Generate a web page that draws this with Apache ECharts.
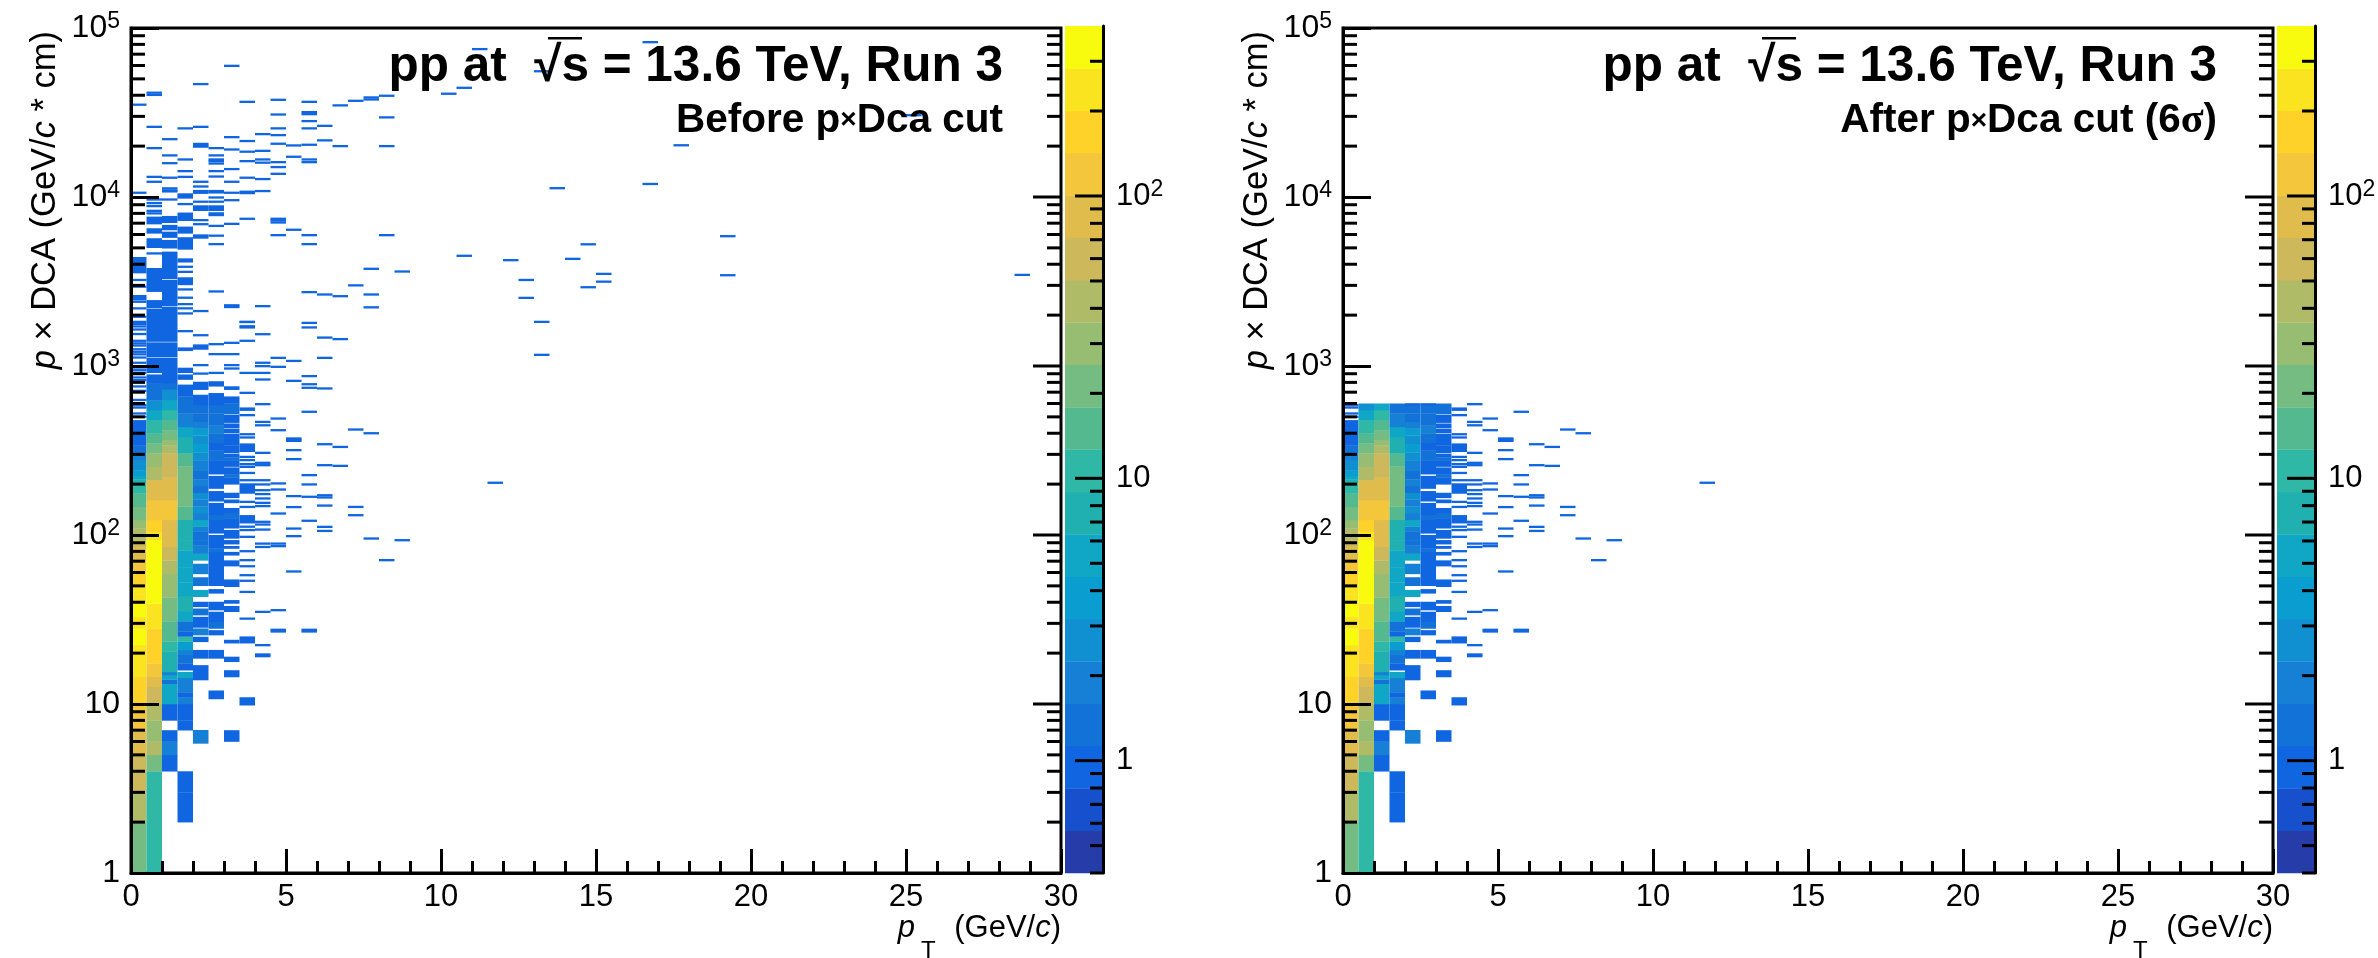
<!DOCTYPE html>
<html>
<head>
<meta charset="utf-8">
<style>html,body{margin:0;padding:0;background:#fff}#c{width:2378px;height:958px}</style>
<script src="https://cdn.jsdelivr.net/npm/echarts@6/dist/echarts.min.js"></script>
</head>
<body>
<div id="c"></div>
<script>
// Histogram binning: pT columns of 0.5 GeV/c, counts are read from the palette.
const ptBinWidth = 0.5;
const pDcaCut = 600;

// Dense columns: [log10(upper edge of run), count]; count 0 = empty; each run starts at the previous edge.
const col0Runs = [[.301,20],[.477,40],[.602,60],[.699,60],[.845,85],[1.0,120],[1.161,170],[1.349,240],[1.447,340],[1.516,240],[1.595,340],[1.65,240],[1.694,240],[1.783,170],[1.842,120],[1.93,85],[1.97,60],[2.0,40],[2.04,40],[2.089,30],[2.167,20],[2.246,15],[2.306,10],[2.33,7],[2.35,5],[2.384,4],[2.444,3],[2.483,2],[2.53,1.4],[2.592,1],[2.68,1],[2.692,0]];
const col1Runs = [[.602,10],[.699,20],[.778,40],[.903,30],[1.0,40],[1.102,60],[1.161,85],[1.24,120],[1.447,170],[1.595,240],[1.77,340],[1.97,340],[2.02,240],[2.089,170],[2.207,120],[2.325,85],[2.404,40],[2.483,30],[2.542,20],[2.601,15],[2.68,10],[2.74,5],[2.798,3],[2.899,1.4],[2.95,1],[2.96,0],[3.05,1],[3.055,0],[3.14,1],[3.145,0],[3.34,1],[3.345,0],[3.39,1],[3.44,0],[3.58,1],[3.70,0],[3.756,1],[3.785,0],[3.815,1],[3.84,0],[3.884,1]];
const col2Runs = [[.602,0],[.699,1],[.778,2],[.845,1],[.903,0],[1.0,1],[1.12,5],[1.146,1.4],[1.172,5],[1.19,2],[1.22,7],[1.31,7],[1.37,10],[1.49,15],[1.63,20],[1.77,30],[1.85,40],[1.93,60],[2.0,85],[2.089,85],[2.207,120],[2.34,85],[2.483,60],[2.53,40],[2.563,30],[2.62,20],[2.68,15],[2.74,10],[2.80,5],[2.86,3],[2.90,1.4],[3.05,1],[3.055,0],[3.14,1],[3.145,0],[3.351,1],[3.356,0],[3.509,1],[3.515,0],[3.677,1],[3.697,0],[3.746,1],[3.76,0],[3.795,1],[3.805,0],[3.835,1],[3.848,0],[3.888,1]];
const col3Runs = [[.301,0],[.477,1],[.602,1],[.845,0],[.903,1],[1.0,1],[1.04,2],[1.07,1],[1.155,2],[1.19,5],[1.2,0],[1.24,1],[1.29,1.4],[1.32,2],[1.37,4],[1.40,10],[1.43,1],[1.49,1.4],[1.55,5],[1.64,7],[1.72,5],[1.81,5],[1.91,5],[1.97,7],[2.09,7],[2.17,15],[2.29,20],[2.406,20],[2.483,15],[2.58,7],[2.64,5],[2.72,2],[2.82,1.4],[2.89,1],[2.92,0],[2.95,1],[2.96,0],[2.99,1],[3.09,0],[3.11,1],[3.48,0],[3.525,1],[3.614,0],[3.637,1],[3.69,0],[3.762,1],[3.785,0],[3.825,1],[3.86,0],[3.908,1]];
const col4Runs = [[.767,0],[.846,2],[1.142,0],[1.23,1],[1.27,0],[1.32,1],[1.368,0],[1.398,1],[1.408,0],[1.447,2],[1.453,0],[1.516,1],[1.526,0],[1.565,1.4],[1.575,0],[1.605,1],[1.635,0],[1.675,5],[1.70,0],[1.75,1.4],[1.77,0],[1.83,2],[1.85,0],[1.89,5],[1.94,2],[1.97,1.4],[2.02,1.4],[2.05,2],[2.09,5],[2.13,2],[2.17,3],[2.21,2],[2.25,3],[2.29,1.4],[2.33,2],[2.38,1.4],[2.44,2],[2.49,3],[2.54,4],[2.59,3],[2.63,4],[2.67,2],[2.72,1.4],[2.77,1.4],[2.83,1],[2.86,0],[2.907,1]];
const col5Runs = [[1.03,0],[1.08,1],[1.27,0],[1.32,1],[1.408,0],[1.437,1],[1.447,0],[1.487,1.4],[1.546,1],[1.556,0],[1.605,1],[1.655,0],[1.68,1],[1.70,0],[1.77,1],[1.90,1],[1.92,1.4],[1.96,1],[2.0,1],[2.01,0],[2.09,1],[2.12,1.4],[2.19,1],[2.2,0],[2.26,1],[2.275,0],[2.35,1],[2.36,0],[2.44,1],[2.5,1.4],[2.55,1],[2.6,1.4],[2.65,2],[2.72,1.4],[2.77,1.4],[2.84,1],[2.88,0],[2.91,1]];
const col6Runs = [[.778,0],[.845,1],[1.16,0],[1.2,1],[1.25,0],[1.28,1],[1.36,0],[1.38,1],[1.546,0],[1.58,1],[1.595,0],[1.615,1],[1.694,0],[1.737,1],[1.816,0],[1.85,1],[1.88,0],[1.90,1],[1.92,0],[1.935,1],[1.946,0],[1.97,1],[1.98,0],[2.03,1],[2.04,0],[2.1,1],[2.13,1.4],[2.16,1],[2.19,0],[2.21,1],[2.22,0],[2.25,1],[2.30,0],[2.34,1],[2.36,1.4],[2.4,1],[2.405,0],[2.44,1],[2.46,1.4],[2.48,1],[2.485,0],[2.53,1],[2.6,1],[2.605,0],[2.63,1],[2.635,0],[2.66,1],[2.665,0],[2.71,1],[2.715,0],[2.78,1.4],[2.82,1],[2.86,0],[2.88,1],[2.9,0]];
const denseColumns = [col0Runs, col1Runs, col2Runs, col3Runs, col4Runs, col5Runs, col6Runs];

// Isolated wider blocks: [column, log10(low), log10(high), count]
const blockCells = [[0,3.55,3.645,1],[0,3.39,3.42,1],[7,2.736,2.755,1],[7,2.493,2.542,1],[7,2.246,2.306,1],[7,2.07,2.118,1],[7,1.36,1.40,1],[7,0.993,1.04,1],[4,3.098,3.128,1],[4,3.755,3.779,1]];

// Single-count entries: one list of log10(p x DCA) per column.
const hitColumnIds = [0,1,2,3,4,5,6,7,8,9,10,11,12,13,14,15,16,17,20,21,22,23,24,25,26,27,28,29,30,33,35,38,50,57];
const hitLogValues = [
 [2.70,2.72,2.755,2.769,2.80,2.854,2.88,2.917,2.933,2.96,2.976,2.992,3.02,3.051,3.07,3.085,3.10,3.122,3.135,3.15,3.19,3.217,3.235,3.25,3.262,3.292,3.342,3.381,3.47,3.51,4.026,4.547],
 [3.667,3.904,3.919,3.947,3.965,3.986,4.091,4.12,4.29,4.416,4.605,4.618],
 [3.986,4.034,4.04,4.052,4.115,4.201,4.247,4.343],
 [3.312,3.342,3.367,3.405,3.454,3.558,3.588,3.207,3.959,3.998,4.006,4.016,4.12,4.154,4.223,4.407],
 [2.956,3.006,3.183,3.326,3.84,3.864,3.925,3.935,3.945,3.973,4.026,4.036,4.063,4.091,4.299,4.305,4.315,4.416,4.669],
 [2.96,3.071,3.13,3.442,3.722,3.772,3.83,3.894,3.904,3.925,3.935,3.945,3.973,3.998,4.028,4.036,4.122,4.154,4.199,4.213,4.223,4.247,4.29],
 [2.986,3.006,3.071,3.138,3.35,3.36,3.842,3.982,4.026,4.091,4.166,4.282,4.355,4.777],
 [1.506,1.664,1.73,1.763,1.816,1.852,1.905,1.99,2.03,2.05,2.167,2.197,2.325,2.368,2.404,2.42,2.444,2.463,2.578,2.597,2.71,2.842,2.96,3.15,3.229,3.236,3.261,3.262,3.872,4.024,4.032,4.115,4.213,4.269,4.332,4.564],
 [1.284,1.294,1.349,1.546,1.93,1.95,2.033,2.063,2.079,2.172,2.191,2.217,2.243,2.266,2.30,2.325,2.414,2.428,2.487,2.65,2.67,2.775,2.921,2.96,3.0,3.02,3.189,3.355,4.036,4.107,4.204,4.223,4.274,4.373],
 [1.43,1.44,1.556,1.935,1.95,2.128,2.27,2.306,2.621,2.69,2.996,3.049,3.775,3.85,3.862,3.872,4.138,4.178,4.207,4.316,4.367,4.407,4.489,4.576],
 [1.785,1.994,2.039,2.166,2.231,2.45,2.503,2.558,2.565,2.572,2.913,3.031,3.807,4.239,4.306],
 [1.43,1.44,2.085,2.227,2.3,2.355,2.73,2.872,2.893,2.941,3.229,3.256,3.438,3.722,3.775,4.207,4.223,4.31,4.407,4.45,4.491,4.503,4.564],
 [2.025,2.049,2.175,2.223,2.236,2.414,2.538,2.868,3.049,3.169,3.424,4.336,4.422],
 [2.41,2.522,3.16,3.414,4.302,4.543],
 [2.118,2.167,2.625,3.478,4.57],
 [1.98,2.603,3.348,3.424,3.576,4.578,4.59],
 [1.852,3.775,4.302,4.472,4.60],
 [1.97,3.56],
 [4.612],
 [3.653,4.647],
 [4.876],
 [2.31],
 [3.627],
 [3.404,3.51],
 [3.067,3.262,4.745],
 [4.053],
 [3.635],
 [3.467,3.721],
 [3.5,3.546],
 [4.078,4.917],
 [4.307],
 [3.538,3.769],
 [4.485],
 [3.54]
];

// Palette
const paletteLevels = [0.4,0.565,0.798,1.127,1.592,2.249,3.177,4.487,6.339,8.953,12.65,17.86,25.24,35.65,50.36,71.13,100.5,141.9,200.5,283.2,400];
const paletteColors = ['#263CA8','#1650CC','#0F66E0','#1272D8','#1580D5','#1090D0','#0A9ED0','#0FA7C5','#20B0B0','#2FB8A5','#54B98F','#75BC82','#96BD72','#B0BB68','#CDB95C','#E0BC4C','#F3C63B','#FFD22A','#FAE41F','#F9FB0E'];

// Axis ticks
const yMinorTicks = [2,3,4,5,6,7,8,9,20,30,40,50,60,70,80,90,200,300,400,500,600,700,800,900,2000,3000,4000,5000,6000,7000,8000,9000,20000,30000,40000,50000,60000,70000,80000,90000];
const yMajorTicks = [10,100,1000,10000];
const zMajorTicks = [1,10,100];
const zMinorTicks = [0.4,0.5,0.6,0.7,0.8,0.9,2,3,4,5,6,7,8,9,20,30,40,50,60,70,80,90,200,300];

function colorOf(z){
  for (let i = paletteColors.length - 1; i >= 0; i--) if (z >= paletteLevels[i]) return paletteColors[i];
  return paletteColors[0];
}
function buildCells(limit){
  const cells = [];
  const push = (col, lo, hi, z) => {
    if (lo >= limit) return;
    cells.push([col * ptBinWidth, (col + 1) * ptBinWidth, lo, Math.min(hi, limit), z]);
  };
  denseColumns.forEach((runs, col) => {
    let prev = 0;
    runs.forEach(r => { if (r[1] > 0) push(col, Math.pow(10, prev), Math.pow(10, r[0]), r[1]); prev = r[0]; });
  });
  blockCells.forEach(b => push(b[0], Math.pow(10, b[1]), Math.pow(10, b[2]), b[3]));
  hitColumnIds.forEach((col, i) => hitLogValues[i].forEach(l => { const v = Math.pow(10, l); push(col, v, v, 1); }));
  return cells;
}
function cellRender(params, api){
  const a = api.coord([api.value(0), api.value(2)]);
  const b = api.coord([api.value(1), api.value(3)]);
  let h = a[1] - b[1], y = b[1];
  if (h < 2) { y = (a[1] + b[1]) / 2 - 1; h = 2; }
  return { type: 'rect', shape: { x: a[0], y: y, width: b[0] - a[0], height: h + 0.3 },
           style: { fill: colorOf(api.value(4)) } };
}
function tickRender(params, api){
  const p = api.coord([api.value(0), api.value(1)]);
  return { type: 'line', shape: { x1: p[0], y1: p[1], x2: p[0] + api.value(2), y2: p[1] },
           style: { stroke: '#000', lineWidth: 3 } };
}
function bandRender(params, api){
  const a = api.coord([0, api.value(0)]), b = api.coord([1, api.value(1)]);
  return { type: 'rect', shape: { x: a[0], y: b[1], width: b[0] - a[0], height: a[1] - b[1] + 0.3 },
           style: { fill: paletteColors[api.value(2)] } };
}

const FONT = '"Liberation Sans", Arial, sans-serif';
const panels = [
  { left: 131, barLeft: 1065, limit: Infinity, sub: 'Before p{x|×}Dca cut', titleRight: 1003 },
  { left: 1343, barLeft: 2277, limit: pDcaCut, sub: 'After p{x|×}Dca cut (6{s|σ})', titleRight: 2217 }
];
const grid = [], xAxis = [], yAxis = [], series = [], title = [], graphic = [];
const expLabel = v => {
  const e = Math.round(Math.log10(v) * 1000) / 1000;
  if (!Number.isInteger(e)) return '';
  return e === 0 ? '1' : e === 1 ? '10' : '10{s|' + e + '}';
};
const supRich = { s: { fontFamily: FONT, fontSize: 23, color: '#000', verticalAlign: 'bottom', padding: [0, 0, 13, 0] } };
panels.forEach((P, i) => {
  const g = i * 2, b = i * 2 + 1;
  grid.push({ show: true, left: P.left, top: 28, width: 930, height: 845, borderColor: '#000', borderWidth: 3, backgroundColor: '#fff', outerBoundsMode: 'none' });
  grid.push({ left: P.barLeft, top: 26, width: 38, height: 847, outerBoundsMode: 'none' });
  xAxis.push({
    type: 'value', gridIndex: g, min: 0, max: 30, interval: 5, z: 6,
    axisLine: { lineStyle: { color: '#000', width: 3 } },
    axisTick: { inside: true, length: 24, lineStyle: { color: '#000', width: 3 } },
    minorTick: { show: true, splitNumber: 5, length: 12, lineStyle: { color: '#000', width: 3 } },
    splitLine: { show: false },
    axisLabel: { color: '#000', fontFamily: FONT, fontSize: 31, margin: 9 },
    name: '{i|p}{t|T} (GeV/{i|c})', nameLocation: 'end', nameGap: 0, nameMoveOverlap: false,
    nameTextStyle: { align: 'right', verticalAlign: 'top', padding: [20, 0, 0, 0], color: '#000', fontFamily: FONT, fontSize: 31,
      rich: { i: { fontFamily: FONT, fontSize: 31, fontStyle: 'italic', color: '#000' },
              t: { fontFamily: FONT, fontSize: 24, color: '#000', verticalAlign: 'top', padding: [46, 10, 0, 6] } } }
  });
  xAxis.push({ type: 'value', gridIndex: b, min: 0, max: 1, show: false });
  yAxis.push({
    type: 'log', gridIndex: g, min: 1, max: 100000, logBase: 10, z: 6,
    axisLine: { show: true, lineStyle: { color: '#000', width: 3 } },
    axisTick: { show: true, inside: true, length: 28, lineStyle: { color: '#000', width: 3 } },
    splitLine: { show: false }, minorTick: { show: false }, minorSplitLine: { show: false },
    axisLabel: { color: '#000', fontFamily: FONT, fontSize: 32, margin: 11, formatter: expLabel, rich: supRich, showMinLabel: true, showMaxLabel: true },
    name: '{i|p} × DCA (GeV/{i|c} * cm)', nameLocation: 'end', nameGap: -3, nameRotate: 90, nameMoveOverlap: false,
    nameTextStyle: { align: 'right', verticalAlign: 'bottom', padding: [0, 0, 68, 0], color: '#000', fontFamily: FONT, fontSize: 34.5,
      rich: { i: { fontFamily: FONT, fontSize: 34.5, fontStyle: 'italic', color: '#000' } } }
  });
  yAxis.push({
    type: 'log', gridIndex: b, min: 0.4, max: 400, logBase: 10, position: 'right', z: 6,
    axisLine: { show: true, onZero: false, lineStyle: { color: '#000', width: 3 } },
    axisTick: { show: false }, splitLine: { show: false },
    axisLabel: { color: '#000', fontFamily: FONT, fontSize: 31, margin: 13, formatter: expLabel, rich: supRich, showMinLabel: false, showMaxLabel: false }
  });
  series.push({ type: 'custom', name: i ? 'After cut' : 'Before cut', xAxisIndex: g, yAxisIndex: g, z: 2, clip: false,
    encode: { x: [0, 1], y: [2, 3] }, data: buildCells(P.limit), renderItem: cellRender, silent: true });
  const yt = [];
  yMinorTicks.forEach(v => { yt.push([0, v, 14]); yt.push([30, v, -14]); });
  yMajorTicks.forEach(v => yt.push([30, v, -28]));
  series.push({ type: 'custom', xAxisIndex: g, yAxisIndex: g, z: 5, clip: false,
    encode: { x: 0, y: 1 }, data: yt, renderItem: tickRender, silent: true });
  const bands = paletteColors.map((c, k) => [paletteLevels[k], paletteLevels[k + 1], k]);
  series.push({ type: 'custom', xAxisIndex: b, yAxisIndex: b, z: 2, clip: false,
    encode: { y: [0, 1] }, data: bands, renderItem: bandRender, silent: true });
  const zt = [];
  zMajorTicks.forEach(v => zt.push([1, v, -28]));
  zMinorTicks.forEach(v => zt.push([1, v, -13]));
  series.push({ type: 'custom', xAxisIndex: b, yAxisIndex: b, z: 5, clip: false,
    encode: { x: 0, y: 1 }, data: zt, renderItem: tickRender, silent: true });

  title.push({
    text: 'pp at  √s = 13.6 TeV, Run 3', right: 2378 - P.titleRight, top: 42, padding: 0,
    textStyle: { color: '#000', fontFamily: FONT, fontWeight: 'bold', fontSize: 49.5 }
  });
  title.push({
    text: P.sub, right: 2378 - P.titleRight, top: 100, padding: 0,
    textStyle: { color: '#000', fontFamily: FONT, fontWeight: 'bold', fontSize: 40.5,
      rich: { x: { fontFamily: FONT, fontSize: 28, color: '#000' },
              s: { fontFamily: '"Liberation Serif", serif', fontSize: 42, color: '#000' } } }
  });
  graphic.push({ type: 'rect', shape: { x: P.titleRight - 455, y: 37, width: 34, height: 2.5 }, style: { fill: '#000' }, z: 10 });
});

const chart = echarts.init(document.getElementById('c'), null, { renderer: 'canvas' });
chart.setOption({ animation: false, backgroundColor: '#fff', tooltip: { show: false }, grid, xAxis, yAxis, series, title, graphic });
</script>
</body>
</html>
